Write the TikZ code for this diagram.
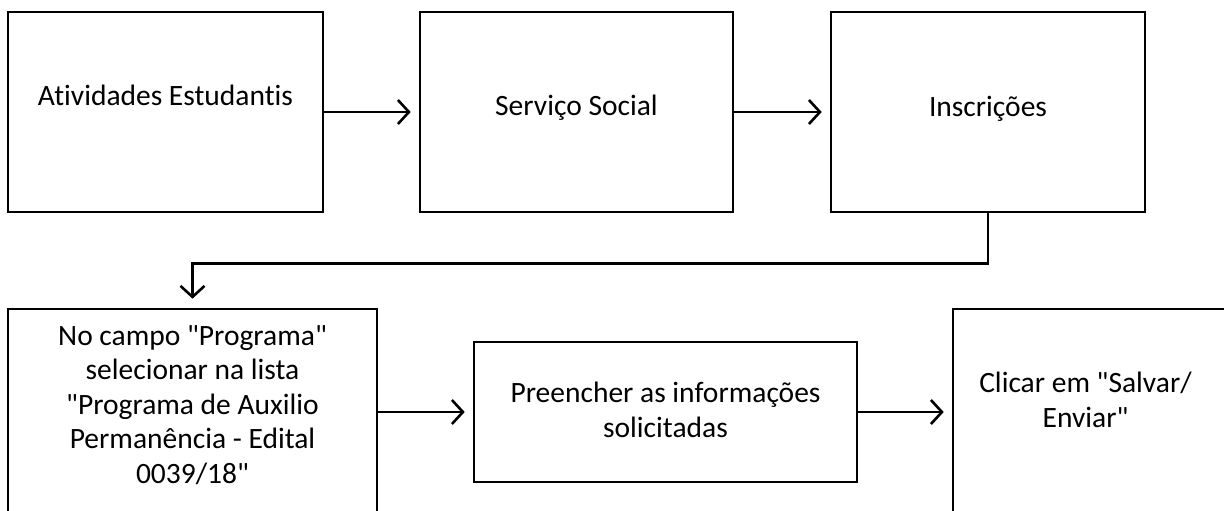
\documentclass[tikz,border=0pt]{standalone}
\usepackage{fontspec}
\setmainfont{Carlito}[Ligatures={TeXOff,NoCommon}]
\usetikzlibrary{arrows.meta}
\begin{document}
\begin{tikzpicture}[x=1pt,y=-1pt,
  stepbox/.style={draw=black,line width=2.6pt,rectangle,inner sep=0pt,minimum width=#1},
  lbl/.style={font=\fontsize{29.5}{34.5}\selectfont,align=center,inner sep=0pt,anchor=base},
  conn/.style={draw=black,line width=2.6pt,-{Straight Barb[length=11pt,width=24pt,line width=2.6pt]},shorten >=8pt}]
\useasboundingbox (0,0) rectangle (1224,511);
\clip (0,0) rectangle (1224,511);
\fill[white] (0,0) rectangle (1224,511);
\node[stepbox=315pt,minimum height=200pt] (b1) at (165.5,112) {};
\node[stepbox=313pt,minimum height=200pt] (b2) at (576.5,112) {};
\node[stepbox=314pt,minimum height=200pt] (b3) at (988,112) {};
\node[stepbox=369pt,minimum height=221pt] (b4) at (192.5,419.5) {};
\node[stepbox=383pt,minimum height=140pt] (b5) at (665.5,412) {};
\node[stepbox=287pt,minimum height=221pt] (b6) at (1096.5,419.5) {};
\node[lbl] (t1) at (165.5,105) {Atividades Estudantis};
\node[lbl] (t2) at (576.5,115) {Serviço Social};
\node[lbl] (t3) at (988,117) {Inscrições};
\node[lbl] (t4) at (192.5,483) {No campo "Programa"\\selecionar na lista\\"Programa de Auxilio\\Permanência - Edital\\0039/18"};
\node[lbl] (t5) at (665.5,437) {Preencher as informações\\solicitadas};
\node[lbl] (t6) at (1085.5,427) {Clicar em "Salvar/\\Enviar"};
\draw[conn] (b1.east) -- (b2.west);
\draw[conn] (b2.east) -- (b3.west);
\draw[conn,shorten >=9pt] (b3.south) -- ([yshift=-50pt]b3.south) -| (b4.north);
\draw[conn] (b4.east |- b5.west) -- (b5.west);
\draw[conn] (b5.east) -- (b6.west |- b5.east);
\end{tikzpicture}
\end{document}
